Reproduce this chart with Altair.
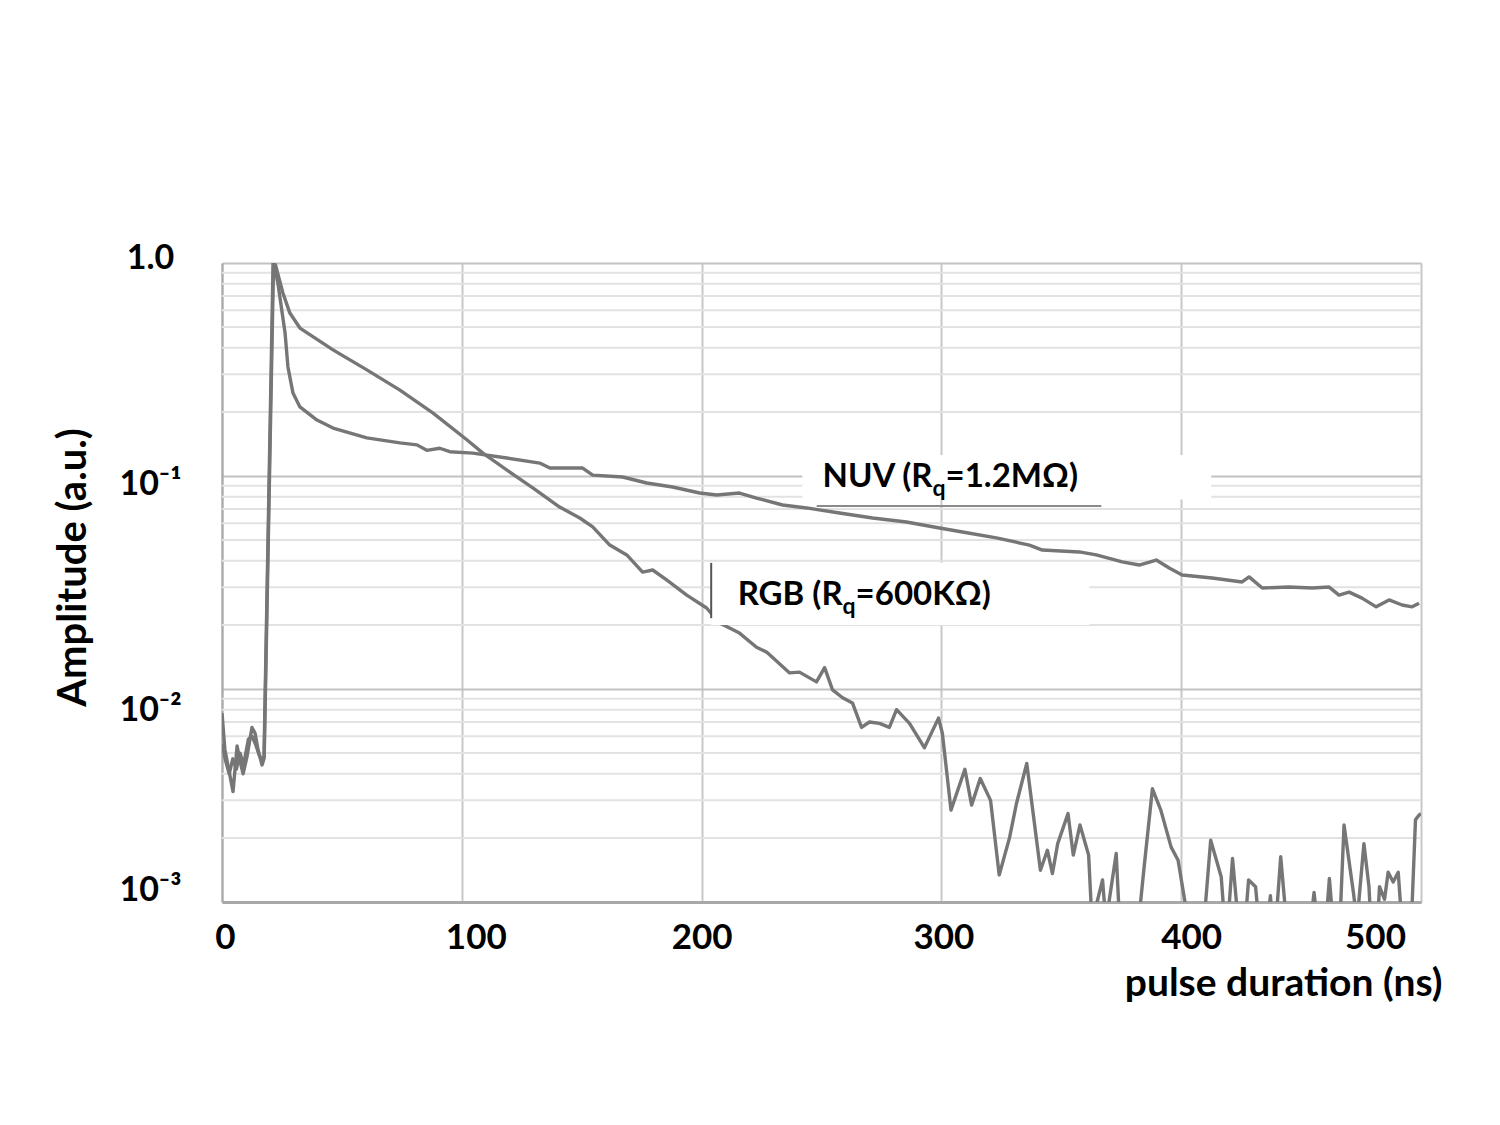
import altair as alt
import pandas as pd

# ---------------- data ----------------
rgb_t = [0.0, 1.2, 4.6, 6.3, 7.5, 8.8, 10.4, 12.5, 13.8, 15.0, 16.7, 17.5, 21.3, 22.3,
         25.4, 28.3, 32.5, 46.3, 60.4, 74.2, 87.9, 102.1, 108.8, 122.9, 129.6, 140.8,
         149.2, 154.6, 161.7, 168.8, 175.4, 179.6, 185.4, 193.8, 202.1, 207.5, 215.8,
         222.9, 227.1, 236.7, 240.8, 247.9, 251.3, 254.6, 258.8, 262.9, 266.7, 270.0,
         274.2, 278.3, 281.3, 286.7, 292.9, 298.8, 300.4, 304.0, 309.8, 312.6, 316.2,
         320.5, 324.1, 328.4, 331.3, 335.6, 341.3, 344.2, 346.3, 348.5, 352.8, 355.0,
         357.8, 361.4, 362.8, 367.2, 368.6, 372.9, 374.3, 382.2, 384.4, 388.0, 391.5,
         395.8, 398.7, 403.0, 409.5, 412.3, 416.7, 418.1, 419.5, 421.4, 423.8, 426.7,
         428.1, 431.0, 432.4, 436.0, 437.2, 438.0, 439.5, 441.5, 443.9, 454.0, 455.4,
         456.8, 460.4, 461.8, 463.3, 466.2, 467.9, 471.9, 473.3, 476.2, 478.3, 479.1,
         481.9, 482.7, 484.8, 486.3, 488.4, 490.5, 492.0, 496.0, 497.7, 499.2, 500.0]
rgb_v = [0.0077, 0.0052, 0.0033, 0.0054, 0.0046, 0.0040, 0.0048, 0.0066, 0.0062, 0.0052,
         0.0044, 0.0047, 1.0, 0.98, 0.723, 0.582, 0.495, 0.391, 0.315, 0.253, 0.198,
         0.148, 0.128, 0.099, 0.088, 0.0715, 0.0635, 0.0577, 0.0474, 0.0426, 0.0354,
         0.0362, 0.0325, 0.0276, 0.0240, 0.0204, 0.0183, 0.0157, 0.0149, 0.0119, 0.0120,
         0.0108, 0.0126, 0.0099, 0.0091, 0.0086, 0.0066, 0.0070, 0.0069, 0.0066, 0.0080,
         0.0069, 0.0053, 0.0073, 0.0062, 0.0027, 0.0042, 0.00285, 0.0038, 0.0030,
         0.00134, 0.0020, 0.0029, 0.00447, 0.00141, 0.00175, 0.00136, 0.00188, 0.0026,
         0.00166, 0.0023, 0.00166, 0.0008, 0.00127, 0.0008, 0.00169, 0.0008, 0.0008,
         0.00141, 0.0034, 0.0027, 0.00181, 0.00157, 0.0008, 0.0008, 0.00195, 0.00131,
         0.0008, 0.0008, 0.0016, 0.0008, 0.0008, 0.00127, 0.00118, 0.0008, 0.0008,
         0.00107, 0.0008, 0.0008, 0.00163, 0.0008, 0.0008, 0.00111, 0.0008, 0.0008,
         0.00129, 0.0008, 0.0008, 0.0023, 0.00109, 0.0008, 0.00188, 0.00118, 0.0008,
         0.0008, 0.00118, 0.00103, 0.00138, 0.00124, 0.00138, 0.0008, 0.0008, 0.00243,
         0.00256, 0.0026]

nuv_t = [0.0, 1.5, 3.0, 4.5, 6.0, 7.5, 9.0, 11.0, 12.5, 14.0, 15.5, 16.8, 17.6, 21.5,
         23.3, 26.3, 27.5, 29.6, 32.5, 39.6, 46.3, 60.4, 74.2, 81.3, 85.4, 90.8, 95.0,
         104.6, 118.8, 132.5, 136.7, 150.4, 154.6, 167.1, 177.1, 187.9, 199.2, 206.3,
         215.8, 222.9, 233.8, 243.8, 257.5, 271.3, 285.4, 299.2, 308.8, 322.9, 336.7,
         342.1, 357.5, 364.6, 375.4, 382.5, 389.6, 395.0, 400.4, 412.9, 425.4, 428.3,
         433.8, 445.0, 454.6, 461.7, 465.8, 470.0, 475.4, 481.3, 486.7, 492.1, 496.3,
         499.2]
nuv_v = [0.0055, 0.0046, 0.0040, 0.0047, 0.0042, 0.0050, 0.0044, 0.0058, 0.0060, 0.0055,
         0.0049, 0.0046, 0.0048, 1.0, 0.805, 0.469, 0.325, 0.245, 0.211, 0.183, 0.168,
         0.151, 0.143, 0.140, 0.132, 0.135, 0.130, 0.128, 0.1215, 0.115, 0.109, 0.109,
         0.101, 0.0989, 0.0927, 0.0888, 0.0832, 0.0814, 0.0832, 0.0788, 0.0731, 0.0708,
         0.067, 0.0635, 0.0608, 0.0570, 0.0546, 0.0512, 0.0474, 0.0449, 0.0440, 0.0426,
         0.0395, 0.0382, 0.0403, 0.0370, 0.0343, 0.0332, 0.0318, 0.0336, 0.0298, 0.0301,
         0.0298, 0.0301, 0.0276, 0.0285, 0.0267, 0.0243, 0.0262, 0.0248, 0.0243, 0.0253]

x_ticks = [0, 100, 200, 300, 400, 500]
y_ticks = [0.001, 0.01, 0.1, 1.0]
minor_grid = [k * 10.0 ** e for e in (-3, -2, -1) for k in range(2, 10)]

# annotation boxes / labels (data units)
box_t = [242.0, 204.0]
box_t2 = [412.5, 361.7]
box_v = [0.1255, 0.0391]
box_v2 = [0.0776, 0.0200]

FONT = "Lato"
GRAY = "#767676"

curves = pd.DataFrame({
    "t": rgb_t + nuv_t,
    "v": rgb_v + nuv_v,
    "s": ["RGB"] * len(rgb_t) + ["NUV"] * len(nuv_t),
})

xs = alt.Scale(domain=[0, 500], nice=False, zero=False)
ys = alt.Scale(type="log", domain=[0.001, 1], nice=False)

x_axis = alt.Axis(
    values=x_ticks, grid=True, gridColor="#c8c8c8", gridWidth=2,
    domainColor="#a8a8a8", domainWidth=3, ticks=False, tickSize=0,
    labelFont=FONT, labelFontSize=35, labelFontWeight="bold", labelColor="black",
    labelPadding=46, labelBaseline="alphabetic", labelFlush=False, labelOverlap=False,
    labelOffset={"expr": "datum.value > 450 ? -46 : datum.value > 350 ? 10 : datum.value > 250 ? 2 : datum.value > 150 ? 0 : datum.value > 50 ? 14 : 3"},
    format="d",
    title="pulse duration (ns)", titleFont=FONT, titleFontSize=39,
    titleFontWeight="bold", titleColor="black", titleAlign="right",
    titleAnchor="end", titleX=1220, titleY=93, titleBaseline="alphabetic",
)
y_axis = alt.Axis(
    values=y_ticks, grid=True, gridColor="#c2c2c2", gridWidth=2,
    domainColor="#a8a8a8", domainWidth=2, ticks=False, tickSize=0,
    labelExpr="datum.value > 0.5 ? '1.0' : datum.value > 0.05 ? '10⁻¹' : datum.value > 0.005 ? '10⁻²' : '10⁻³'",
    labelFont=FONT, labelFontSize=34, labelFontWeight="bold", labelColor="black",
    labelAlign="center", labelPadding=72, labelBaseline="middle", labelOverlap=False,
    labelFlush=False,
    labelOffset={"expr": "datum.value > 0.5 ? -5 : datum.value > 0.05 ? 8 : datum.value > 0.005 ? 21 : -12"},
    title="Amplitude (a.u.)", titleFont=FONT, titleFontSize=40, titleFontWeight="bold",
    titleColor="black", titleAngle=270, titleX=-149, titleY=304,
    titleAlign="center", titleBaseline="middle",
)

X = alt.X("t:Q", scale=xs, axis=x_axis, title="pulse duration (ns)")
Y = alt.Y("v:Q", scale=ys, axis=y_axis, title="Amplitude (a.u.)")

minor = alt.Chart(pd.DataFrame({"v": minor_grid})).mark_rule(
    color="#e2e2e2", strokeWidth=2
).encode(y=Y)

lines = alt.Chart(curves).mark_line(
    color=GRAY, strokeWidth=3.4, clip=True, strokeJoin="round"
).encode(x=X, y=Y, detail="s:N")

boxes = alt.Chart(pd.DataFrame({"t": box_t, "t2": box_t2, "v": box_v, "v2": box_v2})).mark_rect(
    color="white"
).encode(x=X, x2="t2:Q", y=Y, y2="v2:Q")

underline = alt.Chart(pd.DataFrame({"t": [248.0], "t2": [366.7], "v": [0.0723]})).mark_rule(
    color="#8a8a8a", strokeWidth=2
).encode(x=X, x2="t2:Q", y=Y)

bar = alt.Chart(pd.DataFrame({"t": [204.0], "v": [0.0391], "v2": [0.0215]})).mark_rule(
    color="#555555", strokeWidth=2
).encode(x=X, y=Y, y2="v2:Q")


def label(pt, pv, main, tail):
    df = pd.DataFrame({"t": [pt], "v": [pv]})
    base = alt.Chart(df)
    a = base.mark_text(text=main, align="right", baseline="alphabetic", font=FONT,
                       fontSize=33, fontWeight="bold", color="black").encode(x=X, y=Y)
    b = base.mark_text(text="q", align="left", baseline="alphabetic", font=FONT,
                       fontSize=23, fontWeight="bold", color="black", dy=9, dx=0).encode(x=X, y=Y)
    c = base.mark_text(text=tail, align="left", baseline="alphabetic", font=FONT,
                       fontSize=33, fontWeight="bold", color="black", dx=13).encode(x=X, y=Y)
    return a + b + c


nuv_label = label(296.3, 0.0888, "NUV (R", "=1.2MΩ)")
rgb_label = label(258.8, 0.0248, "RGB (R", "=600KΩ)")

chart = alt.layer(minor, lines, boxes, underline, bar, nuv_label, rgb_label).properties(
    width=1199, height=639,
    autosize=alt.AutoSizeParams(type="none"),
    padding={"left": 222, "top": 263, "right": 79, "bottom": 223},
    background="white",
).configure_view(stroke=None)

chart.save("out.html", embed_options={"renderer": "svg", "actions": False})
